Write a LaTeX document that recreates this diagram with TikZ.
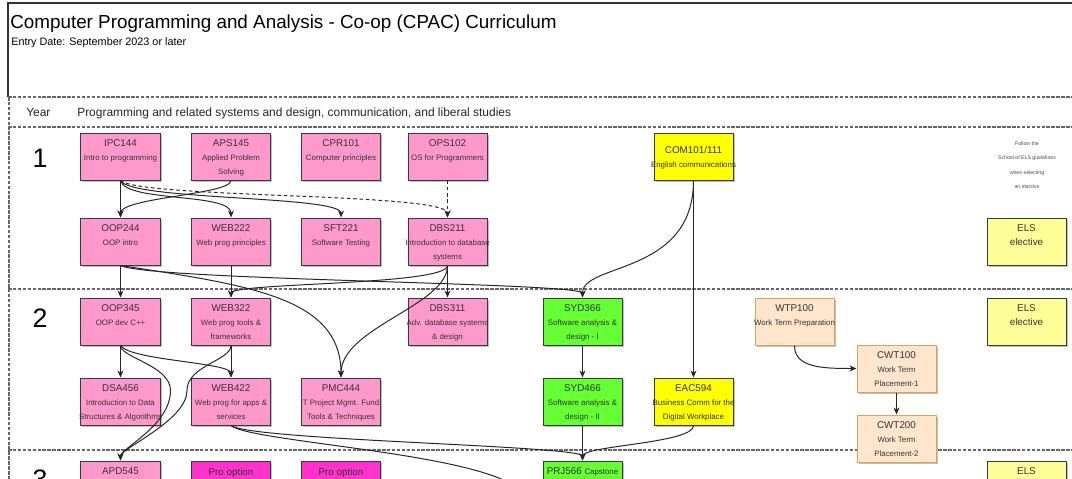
\documentclass[tikz,border=0pt]{standalone}
\usepackage{fontspec}
\setmainfont{Liberation Sans}
\usetikzlibrary{arrows.meta,shadows}

\definecolor{pinkbox}{HTML}{FF99CC}
\definecolor{magbox}{HTML}{FF33CC}
\definecolor{greenbox}{HTML}{66FF33}
\definecolor{yellowbox}{HTML}{FFFF00}
\definecolor{elsbox}{HTML}{FFFF99}
\definecolor{peachbox}{HTML}{FFE6CC}
\definecolor{peachline}{HTML}{D6A656}
\definecolor{boxline}{HTML}{36393D}
\definecolor{boxtext}{HTML}{333333}

\newcommand\descsize{\fontsize{5.6}{10}\selectfont}
\newcommand\codesize{\fontsize{7}{10}\selectfont}
% course text: code line, then two description lines
\newcommand\crs[4][9pt]{\parbox[c][32pt][t]{56pt}{\centering\descsize
  \rule{0pt}{#1}\makebox[0pt]{\codesize #2}\\\makebox[0pt]{#3}\\\makebox[0pt]{#4}}}

\tikzset{
  course/.style={draw=boxline, line width=0.7pt, fill=pinkbox, text=boxtext,
    minimum width=1.975cm, minimum height=1.175cm, inner sep=0pt,
    drop shadow={shadow xshift=1.3pt, shadow yshift=-1.3pt, fill=black, opacity=0.25}},
  coop/.style={course, draw=peachline, fill=peachbox},
  lane/.style={draw=gray!80!black, line width=1.1pt, dash pattern=on 2.5pt off 1pt},
  link/.style={draw=black!85, line width=0.7pt, -{Stealth[length=5pt,width=4.2pt]}},
  optlink/.style={link, dash pattern=on 2.5pt off 2pt},
}

\begin{document}
\begin{tikzpicture}[x=0.025cm, y=-0.025cm]
\useasboundingbox (0,0) rectangle (1072,479);
\clip (0,0) rectangle (1072,479);
\fill[white] (0,0) rectangle (1072,479);

% frame and lanes
\draw[black!80, line width=0.9pt] (8,97) -- (8,3) -- (1072,3);
\draw[lane] (8,97) -- (1072,97);
\draw[lane] (8,127) -- (1072,127);
\draw[lane] (8,289) -- (1072,289);
\draw[lane] (8,450) -- (1072,450);
\draw[lane] (9,97) -- (9,479);

% titles
\node[anchor=base west, inner sep=0pt] (title) at (10,29)
  {\fontsize{13.4}{16}\selectfont Computer Programming and Analysis - Co-op (CPAC) Curriculum};
\node[anchor=base west, inner sep=0pt] (entry) at (11,46)
  {\fontsize{7.7}{9}\selectfont Entry Date: September 2023 or later};
\node[anchor=base west, inner sep=0pt, text=black!85] (hyear) at (26,116)
  {\fontsize{8.5}{10}\selectfont Year};
\node[anchor=base west, inner sep=0pt, text=black!85] (hprog) at (77,116)
  {\fontsize{8.5}{10}\selectfont Programming and related systems and design, communication, and liberal studies};
\node (yri) at (40,158) {\fontsize{19}{20}\selectfont 1};
\node (yrii) at (40,318) {\fontsize{19}{20}\selectfont 2};
\node (yriii) at (40,479) {\fontsize{19}{20}\selectfont 3};

% year 1
\node[course] (ipc) at (120.5,156.5) {\crs{IPC144}{Intro to programming}{}};
\node[course] (aps) at (231,156.5) {\crs{APS145}{Applied Problem}{Solving}};
\node[course] (cpr) at (341,156.5) {\crs{CPR101}{Computer principles}{}};
\node[course] (ops) at (447.5,156.5) {\crs{OPS102}{OS for Programmers}{}};
\node[course, fill=yellowbox] (com) at (693.5,156.5) {\crs[14pt]{COM101/111}{English communications}{}};
\node[align=center, text=black!70, font=\fontsize{3.7}{10.3}\selectfont] (elsnote) at (1027,165)
  {Follow the\\School of ELS guidelines\\when selecting\\an elective};
\node[course] (oopi) at (120.5,241.5) {\crs{OOP244}{OOP intro}{}};
\node[course] (webi) at (231,241.5) {\crs{WEB222}{Web prog principles}{}};
\node[course] (sft) at (341,241.5) {\crs{SFT221}{Software Testing}{}};
\node[course] (dbsi) at (447.5,241.5) {\crs{DBS211}{Introduction to database}{systems}};
\node[course, fill=elsbox] (elsi) at (1026.5,241.5) {\crs{ELS}{\codesize elective}{}};

% year 2
\node[course] (oopii) at (120.5,321.5) {\crs{OOP345}{OOP dev C++}{}};
\node[course] (webii) at (231,321.5) {\crs{WEB322}{Web prog tools \&}{frameworks}};
\node[course] (dbsii) at (447.5,321.5) {\crs{DBS311}{Adv. database systems}{\& design}};
\node[course, fill=greenbox] (sydi) at (582.5,321.5) {\crs{SYD366}{Software analysis \&}{design - I}};
\node[coop] (wtp) at (794.5,321.5) {\crs{WTP100}{Work Term Preparation}{}};
\node[course, fill=elsbox] (elsii) at (1026.5,321.5) {\crs{ELS}{\codesize elective}{}};
\node[course] (dsa) at (120.5,401.5) {\crs{DSA456}{Introduction to Data}{Structures \& Algorithms}};
\node[course] (webiii) at (231,401.5) {\crs{WEB422}{Web prog for apps \&}{services}};
\node[course] (pmc) at (341,401.5) {\crs{PMC444}{IT Project Mgmt. Fund.}{Tools \& Techniques}};
\node[course, fill=greenbox] (sydii) at (582.5,401.5) {\crs{SYD466}{Software analysis \&}{design - II}};
\node[course, fill=yellowbox] (eac) at (693.5,401.5) {\crs{EAC594}{Business Comm for the}{Digital Workplace}};
\node[coop] (cwti) at (896.5,368.5) {\crs{CWT100}{Work Term}{Placement-1}};
\node[coop] (cwtii) at (896.5,438.5) {\crs{CWT200}{Work Term}{Placement-2}};

% year 3
\node[course] (apd) at (120.5,484.5) {\crs{APD545}{}{}};
\node[course, fill=magbox] (proa) at (231,485) {\crs{Pro option}{}{}};
\node[course, fill=magbox] (prob) at (341,485) {\crs{Pro option}{}{}};
\node[course, fill=greenbox] (prj) at (582.5,484.5) {\crs{PRJ566 {\descsize Capstone}}{}{}};
\node[course, fill=elsbox] (elsiii) at (1026.5,484.5) {\crs{ELS}{\codesize elective}{}};
\coordinate (below) at (524,500);

% prerequisites, year 1
\draw[link] (ipc.south) -- (oopi.north);
\draw[link] (ipc.south) .. controls +(5,22) and +(0,-25) .. (webi.north);
\draw[link] (ipc.south) .. controls +(10,20) and +(0,-22) .. (sft.north);
\draw[optlink] (ipc.south) .. controls +(20,18) and +(0,-25) .. (dbsi.north);
\draw[link] (aps.south) .. controls +(0,14) and +(0,-20) .. (oopi.north);
\draw[optlink] (ops.south) -- (dbsi.north);
\draw[link] (com.south) .. controls +(0,95) and +(0,-35) .. (sydi.north);
\draw[link] (com.south) -- (eac.north);
\draw[link] (oopi.south) -- (oopii.north);
\draw[link] (oopi.south) .. controls +(30,15) and +(0,-15) .. (sydi.north);
\draw[link] (oopi.south) .. controls +(130,20) and +(0,-80) .. (pmc.north);
\draw[link] (webi.south) -- (webii.north);
\draw[link] (dbsi.south) .. controls +(0,20) and +(0,-15) .. (webii.north);
\draw[link] (dbsi.south) -- (dbsii.north);
\draw[link] (dbsi.south) .. controls +(0,40) and +(0,-50) .. (pmc.north);

% prerequisites, year 2
\draw[link] (oopii.south) -- (dsa.north);
\draw[link] (oopii.south) .. controls +(10,15) and +(0,-15) .. (webiii.north);
\draw[link] (oopii.south) .. controls +(0,12) and +(0,-25) .. ++(50,45)
  .. controls +(0,35) and +(0,-12) .. (apd.north);
\draw[link] (webii.south) -- (webiii.north);
\draw[link] (webii.south) .. controls +(0,15) and +(0,-25) .. ++(-44,45)
  .. controls +(0,30) and +(0,-12) .. (apd.north);
\draw[link] (sydi.south) -- (sydii.north);
\draw[link] (webiii.south) .. controls +(20,15) and +(0,-15) .. (prj.north);
\draw[black!85, line width=0.7pt] (webiii.south) .. controls +(20,18) and +(0,-45) .. (below);
\draw[link] (sydii.south) -- (prj.north);
\draw[link] (eac.south) .. controls +(0,18) and +(0,-15) .. (prj.north);
\draw[link] (wtp.south) .. controls +(0,22) and +(-35,0) .. (cwti.west);
\draw[link] (cwti.south) -- (cwtii.north);
\end{tikzpicture}
\end{document}
